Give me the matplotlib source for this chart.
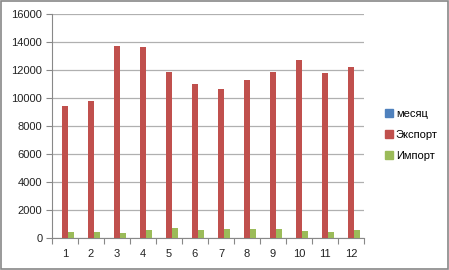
import matplotlib
matplotlib.use("Agg")
import matplotlib.pyplot as plt
import numpy as np
from matplotlib.patches import Rectangle
from matplotlib.lines import Line2D

months = [1, 2, 3, 4, 5, 6, 7, 8, 9, 10, 11, 12]
mesyats = [1, 2, 3, 4, 5, 6, 7, 8, 9, 10, 11, 12]
export = [9450, 9760, 13710, 13650, 11880, 10980, 10640, 11260, 11830, 12740, 11760, 12210]
imports = [430, 430, 380, 550, 690, 550, 640, 640, 640, 520, 430, 550]
series_names = ["месяц", "Экспорт", "Импорт"]
colors = ["#4F81BD", "#C0504D", "#9BBB59"]
yticks = [0, 2000, 4000, 6000, 8000, 10000, 12000, 14000, 16000]

plt.rcParams['font.family'] = ['Liberation Sans', 'DejaVu Sans']
fig = plt.figure(figsize=(4.49, 2.70), dpi=100)
ax = fig.add_axes([52/449, 1-238/270, 312/449, 224/270])

x = np.arange(len(months))
w = 1/4.5
for i, (vals, c) in enumerate(zip([mesyats, export, imports], colors)):
    ax.bar(x + (i-1)*w, vals, width=w, color=c, label=series_names[i], zorder=3)

ax.set_xlim(-0.5, len(months)-0.5)
ax.set_ylim(0, 16000)
ax.set_yticks(yticks)
ax.set_yticklabels([str(v) for v in yticks], fontsize=8, color="#222222")
ax.set_xticks(x)
ax.set_xticklabels([str(m) for m in months], fontsize=8, color="#222222")
ax.set_xticks(np.arange(-0.5, len(months)), minor=True)
ax.tick_params(axis='x', which='major', length=0, pad=8)
ax.tick_params(axis='x', which='minor', length=4, color="#888888", width=0.8)
ax.tick_params(axis='y', length=4, color="#888888", width=0.8, pad=3)
ax.grid(axis='y', color="#B0B0B0", linewidth=0.9, zorder=0)
for s in ['top', 'right']:
    ax.spines[s].set_visible(False)
for s in ['left', 'bottom']:
    ax.spines[s].set_color("#888888")
    ax.spines[s].set_linewidth(0.8)

handles = [Line2D([0], [0], marker='s', linestyle='none', markersize=5.5,
                  markerfacecolor=c, markeredgecolor=c) for c in colors]
fig.legend(handles, series_names, loc='center left', bbox_to_anchor=(378/449, 0.5),
           frameon=False, fontsize=8, labelspacing=1.0, handletextpad=0.1,
           handlelength=1.0, borderpad=0)

fig.patches.append(Rectangle((0.002, 0.003), 0.995, 0.993, transform=fig.transFigure,
                             fill=False, edgecolor="#888888", linewidth=1.2))
fig.savefig("out.png", dpi=100)
